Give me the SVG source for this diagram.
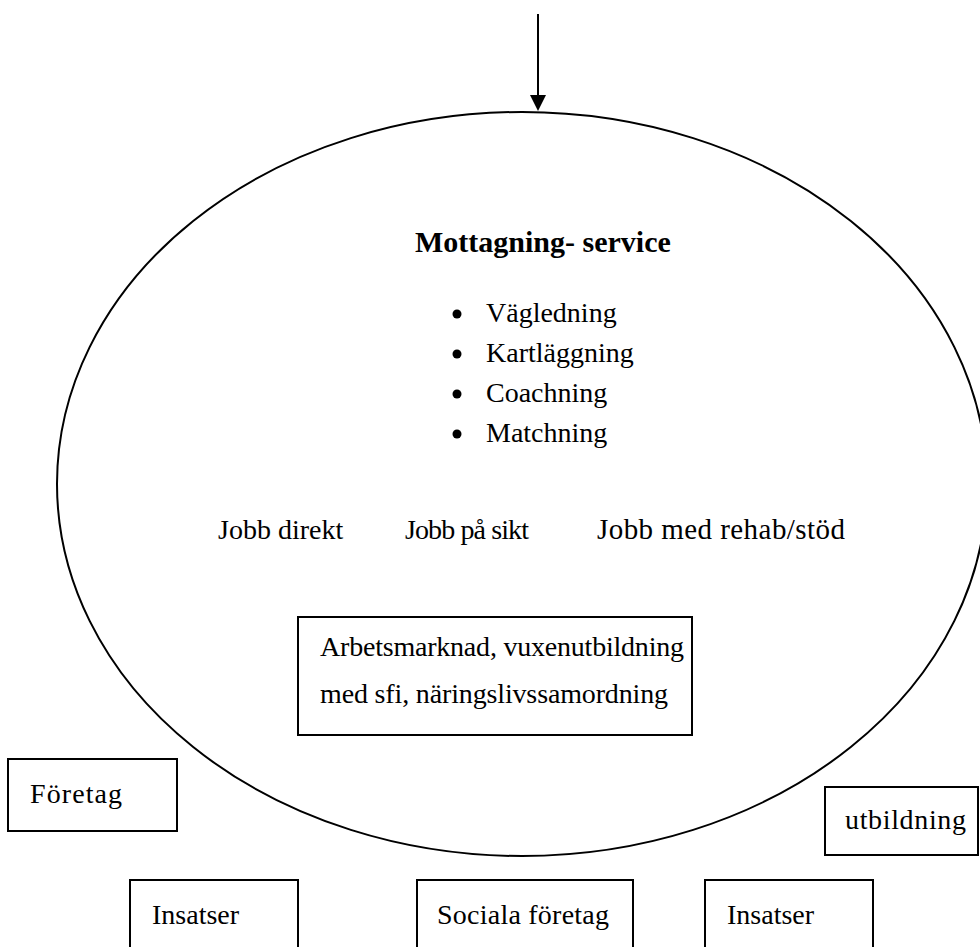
<svg xmlns="http://www.w3.org/2000/svg" width="980" height="947" viewBox="0 0 980 947">
<style>
text{font-family:"Liberation Serif","DejaVu Serif",serif;font-size:28px;fill:#000}
.b{font-weight:bold;font-size:30px}
.box{fill:#fff;stroke:#000;stroke-width:2}
.ln{fill:none;stroke:#000;stroke-width:2}
</style>
<rect width="980" height="947" fill="#fff"/>
<g id="connectors">
<line x1="538" y1="14" x2="538" y2="96" class="ln"/>
<path d="M530,95 L546,95 L538,111 Z" fill="#000"/>
</g>
<g id="ellipse">
<ellipse cx="522" cy="484" rx="465" ry="372" class="ln"/>
<text class="b" x="415" y="252">Mottagning- service</text>
<circle cx="457" cy="314" r="4.5"/>
<text x="486" y="322">Vägledning</text>
<circle cx="457" cy="354" r="4.5"/>
<text x="486" y="362">Kartläggning</text>
<circle cx="457" cy="394" r="4.5"/>
<text x="486" y="402">Coachning</text>
<circle cx="457" cy="434" r="4.5"/>
<text x="486" y="442">Matchning</text>
<text x="218" y="539">Jobb direkt</text>
<text x="405" y="539" textLength="124" lengthAdjust="spacing">Jobb på sikt</text>
<text x="597" y="539" style="font-size:29px" textLength="248" lengthAdjust="spacing">Jobb med rehab/stöd</text>
</g>
<g id="arbetsmarknad">
<rect x="298" y="617" width="394" height="118" class="box"/>
<text x="320" y="656" textLength="364" lengthAdjust="spacing">Arbetsmarknad, vuxenutbildning</text>
<text x="320" y="703" textLength="348" lengthAdjust="spacing">med sfi, näringslivssamordning</text>
</g>
<g id="foretag">
<rect x="8" y="759" width="169" height="72" class="box"/>
<text x="30" y="803" textLength="92" lengthAdjust="spacing">Företag</text>
</g>
<g id="utbildning">
<rect x="825" y="787" width="153" height="68" class="box"/>
<text x="845" y="829" textLength="121" lengthAdjust="spacing">utbildning</text>
</g>
<g id="insatser1">
<rect x="130" y="880" width="168" height="90" class="box"/>
<text x="152" y="924">Insatser</text>
</g>
<g id="sociala">
<rect x="417" y="880" width="216" height="90" class="box"/>
<text x="437" y="924" textLength="172" lengthAdjust="spacing">Sociala företag</text>
</g>
<g id="insatser2">
<rect x="705" y="880" width="168" height="90" class="box"/>
<text x="727" y="924">Insatser</text>
</g>
</svg>
